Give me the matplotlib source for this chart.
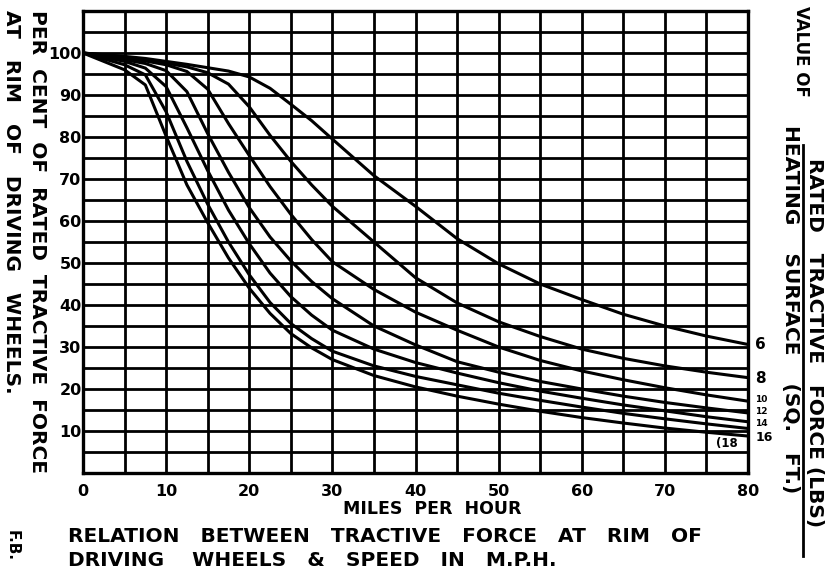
import matplotlib
matplotlib.use("Agg")
import matplotlib.pyplot as plt
from matplotlib.lines import Line2D

# speed (m.p.h.) at which the curves were read
mph = [0, 2.5, 5, 7.5, 10, 12.5, 15, 17.5, 20, 22.5, 25, 27.5, 30,
       35, 40, 45, 50, 55, 60, 65, 70, 75, 80]

# per cent of rated tractive force, one curve per value of
# rated tractive force / heating surface
c6 = [100, 99.6, 99.2, 98.7, 98.0, 97.3, 96.5, 95.7, 94.3, 91.6, 87.8, 83.9, 79.5,
      70.8, 63.5, 55.8, 49.8, 45.0, 41.3, 37.8, 35.0, 32.6, 30.6]
c8 = [100, 99.5, 99.0, 98.4, 97.6, 96.7, 95.3, 92.6, 87.2, 80.4, 74.2, 68.6, 63.5,
      55.0, 46.5, 40.5, 36.0, 32.5, 29.5, 27.3, 25.5, 24.0, 22.7]
c10 = [100, 99.4, 98.8, 98.1, 97.2, 95.6, 91.4, 83.2, 75.6, 68.2, 61.6, 55.6, 50.3,
       43.7, 38.3, 34.0, 30.0, 26.8, 24.3, 22.2, 20.3, 18.6, 17.1]
c12 = [100, 99.2, 98.4, 97.5, 95.8, 90.8, 80.8, 71.6, 63.2, 56.2, 50.5, 45.6, 41.5,
       35.0, 30.5, 26.5, 24.0, 21.8, 20.0, 18.3, 16.8, 15.5, 14.3]
c14 = [100, 99.0, 98.0, 96.4, 92.0, 82.2, 72.0, 62.6, 54.6, 47.6, 42.0, 37.6, 34.0,
       29.5, 26.3, 23.8, 21.5, 19.5, 17.8, 16.2, 14.8, 13.4, 12.2]
c16 = [100, 98.6, 97.2, 94.8, 86.0, 74.2, 64.0, 55.0, 47.2, 40.6, 35.6, 32.0, 29.0,
       25.5, 23.0, 21.0, 19.0, 17.3, 15.7, 14.2, 12.9, 11.7, 10.6]
c18 = [100, 98.0, 96.0, 92.4, 80.2, 68.6, 59.6, 51.2, 44.0, 38.0, 33.2, 29.8, 27.0,
       23.2, 20.5, 18.3, 16.4, 14.7, 13.2, 11.9, 10.7, 9.7, 8.8]

curves = [c6, c8, c10, c12, c14, c16, c18]

x_ticks = list(range(0, 81, 10))
y_ticks = list(range(10, 101, 10))

bold = dict(fontweight="bold", color="black", family="DejaVu Sans")

fig = plt.figure(figsize=(8.32, 5.75), dpi=100)
ax = fig.add_axes([83 / 832, 1 - 473 / 575, 665 / 832, 462 / 575])

ax.set_xlim(0, 80)
ax.set_ylim(0, 110)
ax.set_xticks(x_ticks)
ax.set_xticks(range(5, 80, 10), minor=True)
ax.set_yticks(y_ticks)
ax.set_yticks(range(5, 110, 10), minor=True)
ax.grid(which="both", color="black", linewidth=2.0)
ax.set_axisbelow(True)
ax.tick_params(which="both", length=0)
ax.tick_params(axis="x", pad=8, labelsize=11.5)
ax.tick_params(axis="y", pad=1, labelsize=11.5)
for lab in ax.get_xticklabels() + ax.get_yticklabels():
    lab.set_fontweight("bold")
for sp in ax.spines.values():
    sp.set_linewidth(2.4)
    sp.set_color("black")

for c in curves:
    ax.plot(mph, c, color="black", linewidth=2.2, solid_capstyle="round",
            solid_joinstyle="round")

# curve labels at the right end
ax.text(80.8, 30.6, "6", fontsize=11, va="center", ha="left", clip_on=False, **bold)
ax.text(80.8, 22.4, "8", fontsize=11, va="center", ha="left", clip_on=False, **bold)
ax.text(80.8, 17.6, "10", fontsize=6.5, va="center", ha="left", clip_on=False, **bold)
ax.text(80.8, 14.7, "12", fontsize=6.5, va="center", ha="left", clip_on=False, **bold)
ax.text(80.8, 11.9, "14", fontsize=6.5, va="center", ha="left", clip_on=False, **bold)
ax.text(80.9, 8.4, "16", fontsize=9, va="center", ha="left", clip_on=False, **bold)
ax.text(76.2, 7.0, "(18", fontsize=8.5, va="center", ha="left", **bold)

# left axis title (two lines, reading downwards)
fig.text(37 / 832, 1 - 10 / 575, "PER  CENT  OF  RATED  TRACTIVE  FORCE", rotation=-90,
         ha="center", va="top", fontsize=14.5, **bold)
fig.text(11 / 832, 1 - 10 / 575, "AT   RIM   OF   DRIVING   WHEELS.", rotation=-90,
         ha="center", va="top", fontsize=14.5, **bold)

# right axis title, written as a fraction
fig.text(801 / 832, 1 - 6 / 575, "VALUE OF", rotation=-90,
         ha="center", va="top", fontsize=12, **bold)
fig.text(815 / 832, 1 - 158 / 575, "RATED   TRACTIVE   FORCE (LBS)", rotation=-90,
         ha="center", va="top", fontsize=14.5, **bold)
fig.text(790 / 832, 1 - 125 / 575, "HEATING    SURFACE    (SQ.   FT.)", rotation=-90,
         ha="center", va="top", fontsize=14.5, **bold)
fig.add_artist(Line2D([803 / 832, 803 / 832], [1 - 145 / 575, 1 - 556 / 575],
                      transform=fig.transFigure, color="black", linewidth=2.0))

# bottom texts
fig.text(432 / 832, 1 - 509 / 575, "MILES  PER  HOUR", ha="center", va="center",
         fontsize=12.5, **bold)
fig.text(68 / 832, 1 - 536 / 575, "RELATION   BETWEEN   TRACTIVE   FORCE   AT   RIM   OF",
         ha="left", va="center", fontsize=14.5, **bold)
fig.text(68 / 832, 1 - 561 / 575, "DRIVING    WHEELS   &   SPEED   IN   M.P.H.",
         ha="left", va="center", fontsize=14.5, **bold)
fig.text(12 / 832, 1 - 545 / 575, "F.B.", rotation=-90, ha="center", va="center",
         fontsize=11, **bold)

fig.savefig("out.png", dpi=100, facecolor="white")
